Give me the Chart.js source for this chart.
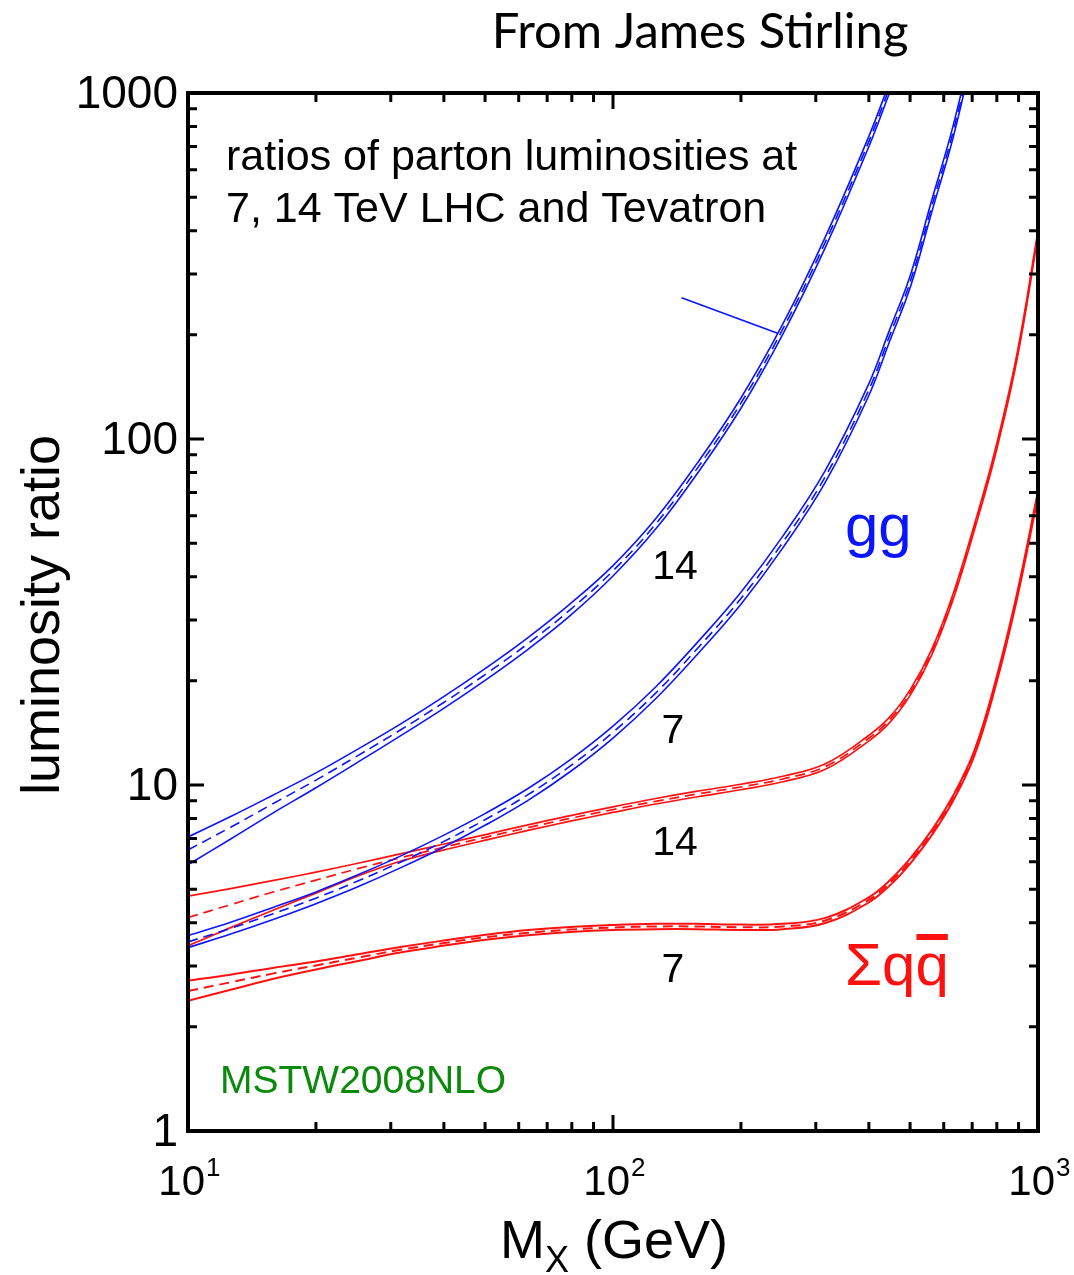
<!DOCTYPE html>
<html>
<head>
<meta charset="utf-8">
<script src="https://cdn.jsdelivr.net/npm/chart.js@4/dist/chart.umd.min.js"></script>
<style>
  body { margin: 0; background: #fff; }
  canvas { display: block; }
</style>
</head>
<body>
<canvas id="lumiChart" width="1074" height="1275"></canvas>
<script>
// M_X grid (GeV); shorter series use the first values only
const mass = [10, 12.6, 15.8, 20, 25.1, 31.6, 39.8, 50.1, 63.1, 79.4, 100, 126, 158, 200, 251, 316, 398, 447, 501, 562, 631, 708, 794, 891, 1000];

// gg, 14 TeV / Tevatron
const gg14Central = [6.49, 7.55, 8.81, 10.33, 12.16, 14.42, 17.26, 20.89, 25.64, 32.14, 41.6, 56.8, 82.4, 127, 208, 371, 714, 1033, 1493];
const gg14Upper = [7.08, 8.11, 9.33, 10.84, 12.7, 15.0, 17.95, 21.73, 26.67, 33.43, 43.06, 58.8, 85.3, 131.4, 215, 384, 739, 1069, 1545];
const gg14Lower = [5.88, 6.98, 8.28, 9.82, 11.64, 13.87, 16.6, 20.1, 24.67, 30.92, 40.19, 54.9, 79.6, 122.7, 201, 358, 690, 998, 1442];

// gg, 7 TeV / Tevatron
const gg7Central = [3.52, 3.85, 4.24, 4.71, 5.28, 5.98, 6.85, 7.95, 9.38, 11.36, 14.2, 18.43, 24.8, 34.6, 50.3, 77.9, 136.9, 198, 286, 469, 770, 1401, 2549];
const gg7Upper = [3.67, 4.01, 4.42, 4.91, 5.5, 6.23, 7.14, 8.28, 9.77, 11.84, 14.8, 19.2, 25.84, 36.05, 52.4, 81.2, 142.6, 206, 298, 489, 802, 1460, 2656];
const gg7Lower = [3.39, 3.71, 4.08, 4.54, 5.08, 5.76, 6.6, 7.66, 9.03, 10.94, 13.67, 17.75, 23.88, 33.32, 48.44, 75.0, 131.8, 190.7, 275.4, 451.6, 741.5, 1349, 2455];

// sum q qbar, 14 TeV / Tevatron
const qq14Central = [4.14, 4.51, 4.90, 5.31, 5.73, 6.16, 6.60, 7.06, 7.53, 8.01, 8.49, 8.97, 9.42, 9.87, 10.41, 11.31, 13.6, 15.4, 18.56, 24.18, 34.96, 55.4, 91.9, 171.2, 392];
const qq14Upper = [4.77, 5.02, 5.29, 5.60, 5.94, 6.32, 6.74, 7.19, 7.67, 8.16, 8.65, 9.14, 9.60, 10.05, 10.60, 11.52, 13.85, 15.68, 18.9, 24.63, 35.61, 56.43, 93.6, 174.4, 399.3];
const qq14Lower = [3.43, 3.87, 4.34, 4.87, 5.46, 6.02, 6.48, 6.93, 7.39, 7.86, 8.33, 8.81, 9.25, 9.69, 10.22, 11.10, 13.35, 15.12, 18.22, 23.74, 34.32, 54.39, 90.2, 168.1, 384.8];

// sum q qbar, 7 TeV / Tevatron
const qq7Central = [2.54, 2.69, 2.85, 3.01, 3.17, 3.34, 3.49, 3.63, 3.74, 3.82, 3.875, 3.90, 3.90, 3.88, 3.90, 4.06, 4.64, 5.2, 6.04, 7.27, 9.15, 12.34, 19.56, 34.8, 69.4];
const qq7Upper = [2.72, 2.83, 2.96, 3.09, 3.24, 3.4, 3.55, 3.69, 3.81, 3.89, 3.94, 3.97, 3.97, 3.95, 3.97, 4.13, 4.72, 5.29, 6.15, 7.4, 9.31, 12.55, 19.9, 35.4, 70.6];
const qq7Lower = [2.38, 2.56, 2.75, 2.93, 3.10, 3.28, 3.43, 3.57, 3.68, 3.76, 3.81, 3.83, 3.83, 3.81, 3.83, 3.99, 4.56, 5.11, 5.94, 7.15, 8.99, 12.13, 19.23, 34.2, 68.2];

// pointer line next to the upper gg band
const leaderMass = [145, 244];
const leaderRatio = [256, 202];

const yTickValues = [1, 10, 100, 1000];
const yTickLabels = ['1', '10', '100', '1000'];
const xTickValues = [10, 100, 1000];
const xTickExponents = ['1', '2', '3'];

const BLUE = '#0a14ff';
const RED = '#ff1010';

function pts(xs, ys) {
  return ys.map((y, i) => ({ x: xs[i], y: y }));
}

function band(up, mid, lo, color, width) {
  const base = { borderColor: color, borderWidth: width, pointRadius: 0, fill: false, tension: 0.4 };
  return [
    Object.assign({}, base, { data: pts(mass, up) }),
    Object.assign({}, base, { data: pts(mass, mid), borderDash: [10, 6] }),
    Object.assign({}, base, { data: pts(mass, lo) })
  ];
}

const datasets = [].concat(
  band(gg14Upper, gg14Central, gg14Lower, BLUE, 1.6),
  band(gg7Upper, gg7Central, gg7Lower, BLUE, 1.6),
  band(qq14Upper, qq14Central, qq14Lower, RED, 1.7),
  band(qq7Upper, qq7Central, qq7Lower, RED, 2),
  [{ data: pts(leaderMass, leaderRatio), borderColor: BLUE, borderWidth: 1.6, pointRadius: 0 }]
);

// frame, inward ticks and all the text
const decorations = {
  id: 'decorations',
  afterDatasetsDraw(chart) {
    const ctx = chart.ctx;
    const a = chart.chartArea;
    const xs = chart.scales.x, ys = chart.scales.y;
    ctx.save();
    ctx.strokeStyle = '#000';
    ctx.fillStyle = '#000';

    // ticks
    ctx.lineWidth = 3;
    for (let d = 1; d <= 1000; d *= 10) {
      for (let k = 1; k < 10; k++) {
        const v = k * d;
        if (v >= 1 && v <= 1000) {
          const y = ys.getPixelForValue(v);
          const len = k === 1 ? 16 : 9;
          ctx.beginPath();
          ctx.moveTo(a.left, y); ctx.lineTo(a.left + len, y);
          ctx.moveTo(a.right, y); ctx.lineTo(a.right - len, y);
          ctx.stroke();
        }
        if (v >= 10 && v <= 1000) {
          const x = xs.getPixelForValue(v);
          const len = k === 1 ? 16 : 9;
          ctx.beginPath();
          ctx.moveTo(x, a.bottom); ctx.lineTo(x, a.bottom - len);
          ctx.moveTo(x, a.top); ctx.lineTo(x, a.top + len);
          ctx.stroke();
        }
      }
    }
    ctx.lineWidth = 4;
    ctx.strokeRect(a.left, a.top, a.right - a.left, a.bottom - a.top);

    // y tick labels
    ctx.font = '46px "Liberation Sans", Arial, sans-serif';
    ctx.textAlign = 'right';
    ctx.textBaseline = 'middle';
    yTickValues.forEach((v, i) => {
      ctx.fillText(yTickLabels[i], a.left - 10, ys.getPixelForValue(v) + 2);
    });

    // x tick labels 10^n
    ctx.textBaseline = 'alphabetic';
    xTickValues.forEach((v, i) => {
      const x = xs.getPixelForValue(v);
      ctx.font = '42px "Liberation Sans", Arial, sans-serif';
      ctx.textAlign = 'right';
      ctx.fillText('10', x + 17, 1195);
      ctx.font = '26px "Liberation Sans", Arial, sans-serif';
      ctx.textAlign = 'left';
      ctx.fillText(xTickExponents[i], x + 18, 1176);
    });

    // axis titles
    ctx.font = '54px "Liberation Sans", Arial, sans-serif';
    ctx.textAlign = 'left';
    ctx.fillText('M', 500, 1258);
    const mw = ctx.measureText('M').width;
    ctx.font = '36px "Liberation Sans", Arial, sans-serif';
    ctx.fillText('X', 500 + mw, 1272);
    const xw = ctx.measureText('X').width;
    ctx.font = '54px "Liberation Sans", Arial, sans-serif';
    ctx.fillText(' (GeV)', 500 + mw + xw, 1258);

    ctx.save();
    ctx.translate(59, 615);
    ctx.rotate(-Math.PI / 2);
    ctx.textAlign = 'center';
    ctx.fillText('luminosity ratio', 0, 0);
    ctx.restore();

    // header
    ctx.font = '49px Lato, "Open Sans", sans-serif';
    ctx.textAlign = 'center';
    ctx.fillText('From James Stirling', 700, 48);

    // annotation
    ctx.textAlign = 'left';
    ctx.font = '43px "Liberation Sans", Arial, sans-serif';
    ctx.fillText('ratios of parton luminosities at', 226, 170);
    ctx.fillText('7, 14 TeV LHC and Tevatron', 226, 222);

    // curve labels
    ctx.font = '41px "Liberation Sans", Arial, sans-serif';
    ctx.textAlign = 'center';
    ctx.fillText('14', 675, 579);
    ctx.fillText('7', 673, 743);
    ctx.fillText('14', 675, 855);
    ctx.fillText('7', 673, 982);

    ctx.font = '60px "Liberation Sans", Arial, sans-serif';
    ctx.textAlign = 'left';
    ctx.fillStyle = BLUE;
    ctx.fillText('gg', 845, 546);
    ctx.fillStyle = RED;
    ctx.fillText('\u03A3qq', 845, 985);
    const sw = ctx.measureText('\u03A3q').width;
    const qw = ctx.measureText('q').width;
    ctx.fillRect(845 + sw + 1, 934, qw - 2, 6);

    ctx.font = '39px "Liberation Sans", Arial, sans-serif';
    ctx.fillStyle = '#0a8a0a';
    ctx.fillText('MSTW2008NLO', 220, 1093);
    ctx.restore();
  }
};

new Chart(document.getElementById('lumiChart'), {
  type: 'line',
  data: { datasets: datasets },
  options: {
    responsive: false,
    animation: false,
    devicePixelRatio: 1,
    layout: { padding: { left: 188, top: 93, right: 36, bottom: 144 } },
    plugins: { legend: { display: false }, tooltip: { enabled: false } },
    scales: {
      x: { type: 'logarithmic', min: 10, max: 1000, display: false },
      y: { type: 'logarithmic', min: 1, max: 1000, display: false }
    }
  },
  plugins: [decorations]
});
</script>
</body>
</html>
